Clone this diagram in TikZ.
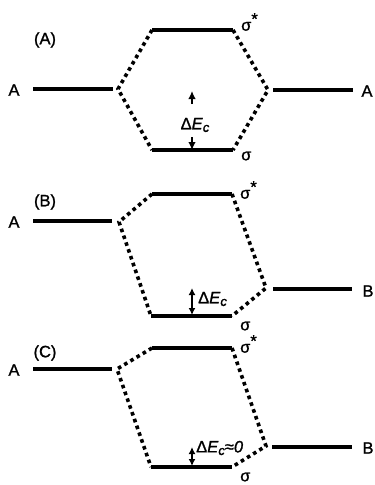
\documentclass[tikz,border=0pt]{standalone}
\usepackage{fontspec}
\setmainfont{Liberation Sans}[FakeBold=1.2]
\usetikzlibrary{arrows.meta}
\newcommand{\dEc}{Δ\textit{E}\raisebox{-0.3ex}{\fontsize{13}{14}\selectfont\textit{c}}}
\newcommand{\sstar}{σ\raisebox{0.7ex}{*}}
\begin{document}
\begin{tikzpicture}[x=1pt,y=-1pt,
  level/.style={line width=3.2pt},
  corr/.style={line width=3.6pt, dash pattern=on 3.6pt off 3.6pt},
  lbl/.style={font=\fontsize{16.5}{18}\selectfont, inner sep=0pt},
  gaparrow/.style={line width=1.4pt, -{Latex[length=8pt,width=7.5pt]}},
  dbl/.style={line width=1.4pt, {Latex[length=7pt,width=7pt]}-{Latex[length=7pt,width=7pt]}}]
\useasboundingbox (0,0) rectangle (375,485);

% ---------- (A): A + A ----------
\coordinate (a1) at (33,89);   \coordinate (a2) at (113,89);
\coordinate (aS1) at (152,30); \coordinate (aS2) at (233,30);
\coordinate (aB1) at (152,150);\coordinate (aB2) at (233,150);
\coordinate (r1) at (273,90);  \coordinate (r2) at (353,90);
\coordinate (aL) at (118,89);  \coordinate (aR) at (268,90);
\draw[level] (a1) -- (a2);
\draw[level] (aS1) -- (aS2);
\draw[level] (aB1) -- (aB2);
\draw[level] (r1) -- (r2);
\draw[corr] (aS1) -- (aL) -- (aB1);
\draw[corr] (aS2) -- (aR) -- (aB2);
\node[lbl] (tA) at (45,40) {(A)};
\node[lbl] (lA1) at (14,90) {A};
\node[lbl] (lA2) at (367,91) {A};
\node[lbl,anchor=west] (sA1) at (241,22) {\sstar};
\node[lbl,anchor=west] (sA2) at (241,156) {σ};
\node[lbl] (dA) at (195,125) {\dEc};
\coordinate (aU) at (192,91);  \coordinate (aUs) at (192,104);
\coordinate (aD) at (192,150); \coordinate (aDs) at (192,137);
\draw[gaparrow] (aUs) -- (aU);
\draw[gaparrow] (aDs) -- (aD);

% ---------- (B): A + B ----------
\coordinate (b1) at (33,221);   \coordinate (b2) at (112,221);
\coordinate (bS1) at (152,194); \coordinate (bS2) at (232,194);
\coordinate (bB1) at (151,316); \coordinate (bB2) at (232,316);
\coordinate (bR1) at (273,289); \coordinate (bR2) at (352,289);
\coordinate (bL) at (119,222);  \coordinate (bR) at (266,288);
\draw[level] (b1) -- (b2);
\draw[level] (bS1) -- (bS2);
\draw[level] (bB1) -- (bB2);
\draw[level] (bR1) -- (bR2);
\draw[corr] (bS1) -- (bL) -- (bB1);
\draw[corr] (bS2) -- (bR) -- (bB2);
\node[lbl] (tB) at (45,202) {(B)};
\node[lbl] (lB1) at (14,222) {A};
\node[lbl] (lB2) at (368,291) {B};
\node[lbl,anchor=west] (sB1) at (240,190) {\sstar};
\node[lbl,anchor=west] (sB2) at (240,326) {σ};
\node[lbl,anchor=west] (dB) at (198,299) {\dEc};
\coordinate (bU) at (192,288); \coordinate (bD) at (192,315);
\draw[dbl] (bD) -- (bU);

% ---------- (C): A + B, near-degenerate ----------
\coordinate (c1) at (33,369);   \coordinate (c2) at (112,369);
\coordinate (cS1) at (152,348); \coordinate (cS2) at (232,348);
\coordinate (cB1) at (151,467); \coordinate (cB2) at (232,467);
\coordinate (cR1) at (272,447); \coordinate (cR2) at (352,447);
\coordinate (cL) at (117,369);  \coordinate (cR) at (266,446);
\draw[level] (c1) -- (c2);
\draw[level] (cS1) -- (cS2);
\draw[level] (cB1) -- (cB2);
\draw[level] (cR1) -- (cR2);
\draw[corr] (cS1) -- (cL) -- (cB1);
\draw[corr] (cS2) -- (cR) -- (cB2);
\node[lbl] (tC) at (45,353) {(C)};
\node[lbl] (lC1) at (14,370) {A};
\node[lbl] (lC2) at (368,448) {B};
\node[lbl,anchor=west] (sC1) at (240,344) {\sstar};
\node[lbl,anchor=west] (sC2) at (240,477) {σ};
\node[lbl,anchor=west] (dC) at (196,448) {\dEc≈\textit{0}};
\coordinate (cU) at (192,447); \coordinate (cD) at (192,466);
\draw[dbl] (cD) -- (cU);
\end{tikzpicture}
\end{document}
